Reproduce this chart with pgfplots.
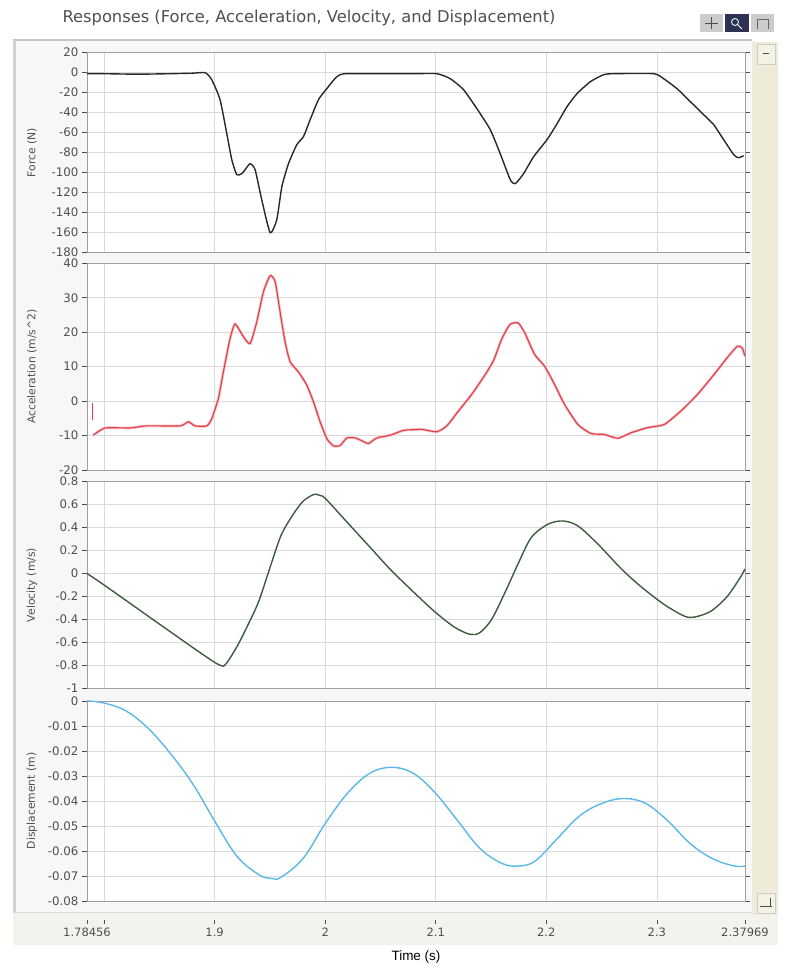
\documentclass[border=0pt]{standalone}
\usepackage{pgfplots}
\pgfplotsset{compat=1.18}
\usepackage{fontspec}
\setmainfont{Liberation Sans}
\newfontfamily\lvfont{DejaVu Sans}
\definecolor{gridc}{RGB}{218,218,218}
\definecolor{labc}{RGB}{80,80,80}
\definecolor{forcec}{RGB}{40,40,40}
\definecolor{accc}{RGB}{226,62,72}
\definecolor{velc}{RGB}{62,92,62}
\definecolor{dispc}{RGB}{90,185,232}
\definecolor{scrollc}{RGB}{238,236,216}
\definecolor{framebg}{RGB}{247,247,247}
\definecolor{bandc}{RGB}{243,242,236}
\definecolor{iconnavy}{RGB}{45,50,85}
\pgfplotsset{
  panel/.style={
    width=658pt, scale only axis, xmin=1.78456, xmax=2.37969,
    xtick={1.78456,1.8,1.9,2,2.1,2.2,2.3,2.37969}, xticklabels={},
    grid=major, grid style={gridc, line width=0.7pt},
    axis line style={gray!75, line width=0.9pt},
    tick align=outside, major tick length=5pt,
    xtick style={draw=none},
    ytick style={gray!60!black, line width=0.7pt},
    yticklabel style={font=\lvfont\fontsize{11.8}{13}\selectfont, text=labc},
    /pgf/number format/assume math mode=true,
    scaled y ticks=false,
    ylabel style={font=\lvfont\fontsize{10.8}{12}\selectfont, text=labc, at={(axis description cs:-0.0836,0.5)}, anchor=center},
    axis background/.style={fill=white},
    clip=true,
  }
}
\begin{document}
\begin{tikzpicture}[x=1pt,y=1pt]
\useasboundingbox (0,0) rectangle (792,978);
\fill[white] (0,0) rectangle (792,978);
% frame
\fill[framebg] (13,65) rectangle (752,938);
\fill[bandc] (13,33) rectangle (778,65);
\draw[gray!35, line width=3pt] (14,65) -- (14,938);
\draw[gray!45, line width=1.2pt] (13,938) -- (752,938);
\draw[gray!30, line width=1pt] (13,65) -- (752,65);
% scrollbar
\fill[scrollc] (752,63) rectangle (778,936);
\draw[gray!40, fill=scrollc!70!white] (757,914) rectangle (775,934);
\draw[gray!60!black, line width=0.6pt] (763,925) -- (769,925);
\draw[gray!40, fill=scrollc!70!white] (757,65) rectangle (775,85);
\draw[gray!60!black, line width=0.6pt] (760,72) -- (772,72);
\draw[gray!60!black, line width=0.6pt] (770,72) -- (770,80);
% title
\node[anchor=west, text=labc, font=\lvfont\fontsize{16.3}{18}\selectfont] at (59,960) {Responses (Force, Acceleration, Velocity, and Displacement)};
% icons
\fill[gray!40] (700,946) rectangle (723,964);
\draw[black!70, line width=0.8pt] (705,955) -- (718,955) (711.5,949) -- (711.5,961);
\fill[iconnavy] (725,946) rectangle (749,964);
\draw[white, line width=0.8pt] (735,956) circle (3.5pt) (737.5,953.5) -- (742,949);
\fill[gray!40] (751,946) rectangle (774,964);
\draw[black!60, line width=0.8pt] (757,949) -- (757,959) -- (768,959) -- (768,949);
% x axis title
\node[font=\fontsize{13.5}{15}\selectfont, text=black] at (416,21) {Time (s)};

% ---------------- Force
\begin{axis}[panel, at={(87pt,725.3pt)}, anchor=south west, height=200pt,
  ymin=-180, ymax=20, ytick={-180,-160,...,20}, ylabel={Force (N)}]
\addplot[forcec, line width=1.4pt, smooth, tension=0.35] coordinates {
(1.7846,-1) (1.80,-1) (1.83,-1.5) (1.86,-1) (1.88,-0.5) (1.8914,0) (1.8974,-7)
(1.9049,-27) (1.9110,-61) (1.9155,-87) (1.9200,-102) (1.9245,-101) (1.9276,-97)
(1.9321,-91) (1.9366,-97) (1.9426,-127) (1.9502,-160) (1.9562,-147) (1.9608,-114)
(1.9668,-91) (1.9743,-72) (1.9803,-64) (1.9864,-47) (1.9939,-27) (2.0014,-16)
(2.0105,-4) (2.0180,-1) (2.05,-1) (2.08,-1) (2.101,-1) (2.1131,-6) (2.1251,-17)
(2.1372,-36) (2.1493,-57) (2.1583,-81) (2.1674,-107) (2.1719,-111) (2.1794,-101)
(2.1885,-84) (2.2006,-67) (2.2097,-51) (2.2187,-34) (2.2277,-21) (2.2398,-9)
(2.2518,-2) (2.2609,-1) (2.2971,-1) (2.3061,-6) (2.3182,-16) (2.3303,-29)
(2.3423,-42) (2.3514,-52) (2.3604,-67) (2.3695,-82) (2.3737,-85) (2.3785,-83)
};
\end{axis}

% ---------------- Acceleration
\pgfplotstableread{
t a
1.7903 -9.9
1.8009 -7.8
1.8235 -7.8
1.8386 -7.2
1.8687 -7.2
1.8762 -6.0
1.8823 -7.2
1.8929 -7.2
1.8974 -5.1
1.9034 0.8
1.9079 8.5
1.9140 18.2
1.9185 22.4
1.9260 18.7
1.9321 16.7
1.9381 23.0
1.9441 31.7
1.9502 36.4
1.9547 34.7
1.9592 25.9
1.9637 17.2
1.9683 11.4
1.9758 8.5
1.9834 4.6
1.9894 -0.2
1.9954 -6.0
2.0015 -10.9
2.0075 -13.0
2.0135 -12.9
2.0196 -10.7
2.0271 -10.7
2.0331 -11.5
2.0391 -12.3
2.0467 -10.7
2.0588 -9.9
2.0708 -8.5
2.0799 -8.3
2.0874 -8.2
2.1009 -8.9
2.1099 -7.2
2.1205 -2.9
2.1324 1.9
2.1429 6.8
2.1520 11.6
2.1595 17.9
2.1670 22.2
2.1745 22.7
2.1805 19.8
2.1895 13.5
2.1985 10.1
2.2075 4.8
2.2165 -1.0
2.2286 -6.8
2.2405 -9.4
2.2525 -9.7
2.2646 -10.8
2.2766 -9.2
2.2916 -7.7
2.3066 -6.8
2.3216 -2.9
2.3366 1.9
2.3516 7.7
2.3636 12.6
2.3727 15.9
2.3772 15.4
2.3797 13.0
}\acctab
\begin{axis}[panel, at={(87pt,508pt)}, anchor=south west, height=206.7pt,
  ymin=-20, ymax=40, ytick={-20,-10,...,40}, ylabel={Acceleration (m/s\textasciicircum 2)}]
\addplot[accc, line width=1.1pt] coordinates {(1.7895,-0.5) (1.7895,-5.5)};
\addplot[accc!35, line width=2.6pt, smooth, tension=0.35] table[x=t,y=a] {\acctab};
\addplot[accc, line width=1.1pt, smooth, tension=0.35] table[x=t,y=a] {\acctab};
\end{axis}

% ---------------- Velocity
\begin{axis}[panel, at={(87pt,289.7pt)}, anchor=south west, height=206.6pt,
  ymin=-1, ymax=0.8, ytick={-1,-0.8,...,0.8}, ylabel={Velocity (m/s)},
  yticklabel style={/pgf/number format/fixed, /pgf/number format/precision=1}]
\addplot[velc, line width=1.4pt, smooth, tension=0.5] coordinates {
(1.7846,0) (1.80,-0.10) (1.85,-0.44) (1.89,-0.71) (1.905,-0.80) (1.91,-0.79)
(1.92,-0.64) (1.93,-0.45) (1.94,-0.24) (1.95,0.05) (1.96,0.33) (1.97,0.50)
(1.98,0.63) (1.99,0.69) (1.995,0.68) (2.00,0.655) (2.02,0.445) (2.04,0.235)
(2.06,0.025) (2.0874,-0.23) (2.1024,-0.36) (2.1174,-0.47) (2.1309,-0.53)
(2.1399,-0.515) (2.1505,-0.40) (2.1624,-0.17) (2.1745,0.086) (2.1865,0.315)
(2.2015,0.43) (2.2150,0.458) (2.2285,0.415) (2.2465,0.258) (2.2676,0.043)
(2.2856,-0.114) (2.3066,-0.27) (2.3246,-0.37) (2.3336,-0.38) (2.3486,-0.33)
(2.3636,-0.20) (2.3757,-0.03) (2.3797,0.04)
};
\end{axis}

% ---------------- Displacement
\begin{axis}[panel, at={(87pt,77pt)}, anchor=south west, height=200pt,
  ymin=-0.08, ymax=0, ytick={-0.08,-0.07,...,0.001}, ylabel={Displacement (m)},
  yticklabel style={/pgf/number format/fixed, /pgf/number format/precision=2},
  xticklabels={{\rule{0.6pt}{4pt}\\1.78456},{\rule{0.6pt}{4pt}},{\rule{0.6pt}{4pt}\\1.9},{\rule{0.6pt}{4pt}\\2},{\rule{0.6pt}{4pt}\\2.1},{\rule{0.6pt}{4pt}\\2.2},{\rule{0.6pt}{4pt}\\2.3},{\rule{0.6pt}{4pt}\\2.37969}},
  xticklabel style={align=center, yshift=-10pt, font=\lvfont\fontsize{11.5}{12.5}\selectfont, text=labc}]
\addplot[dispc, line width=1.4pt, smooth, tension=0.6] coordinates {
(1.7846,0) (1.80,-0.0008) (1.82,-0.004) (1.84,-0.011) (1.86,-0.021) (1.88,-0.033)
(1.90,-0.048) (1.92,-0.062) (1.94,-0.0695) (1.952,-0.071) (1.96,-0.0705) (1.98,-0.063)
(2.00,-0.049) (2.02,-0.037) (2.04,-0.029) (2.06,-0.0265) (2.08,-0.029) (2.10,-0.037)
(2.12,-0.048) (2.14,-0.059) (2.16,-0.065) (2.175,-0.066) (2.19,-0.064) (2.21,-0.055)
(2.23,-0.046) (2.25,-0.041) (2.27,-0.039) (2.29,-0.041) (2.31,-0.048) (2.33,-0.057)
(2.35,-0.063) (2.37,-0.066) (2.3797,-0.066)
};
\end{axis}
\end{tikzpicture}
\end{document}
